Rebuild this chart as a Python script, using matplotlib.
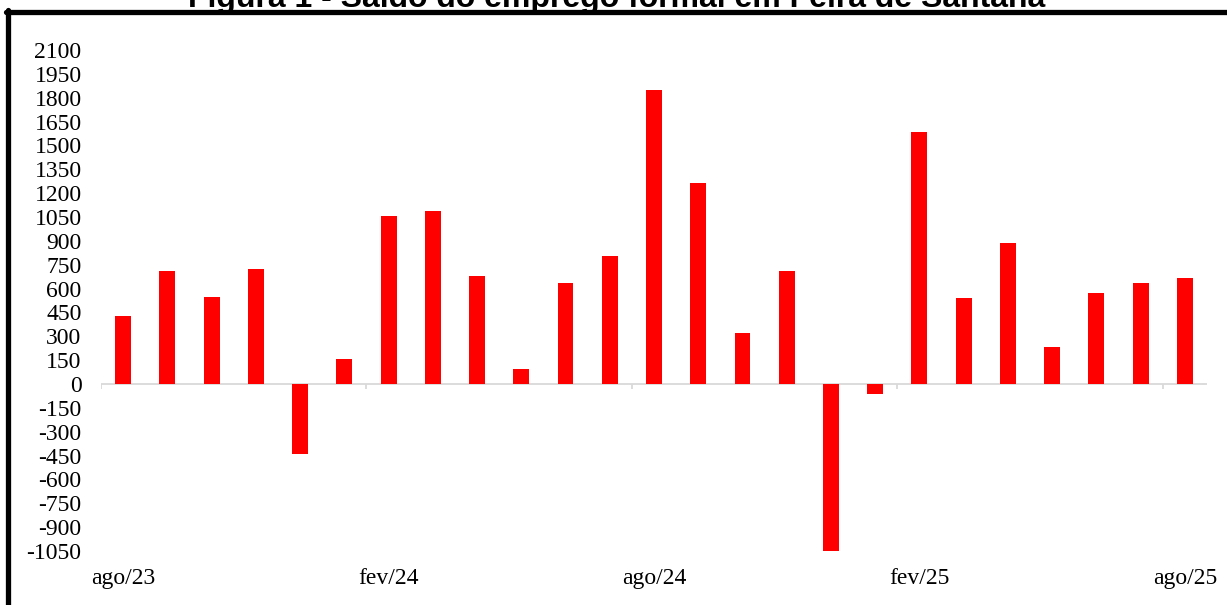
import matplotlib
matplotlib.use("Agg")
import matplotlib.pyplot as plt
from matplotlib.lines import Line2D
import numpy as np

# Saldo mensal de empregos formais (admissões - desligamentos), ago/23 a ago/25
months = ["ago/23", "set/23", "out/23", "nov/23", "dez/23", "jan/24",
          "fev/24", "mar/24", "abr/24", "mai/24", "jun/24", "jul/24",
          "ago/24", "set/24", "out/24", "nov/24", "dez/24", "jan/25",
          "fev/25", "mar/25", "abr/25", "mai/25", "jun/25", "jul/25",
          "ago/25"]
saldo = [428, 711, 549, 723, -440, 155,
         1057, 1088, 677, 92, 633, 805,
         1847, 1262, 319, 709, -1050, -65,
         1583, 539, 885, 231, 574, 633,
         665]
label_months = ["ago/23", "fev/24", "ago/24", "fev/25", "ago/25"]
y_ticks = list(range(-1050, 2101, 150))
title = "Figura 1 - Saldo do emprego formal em Feira de Santana"

W, H = 1227, 605
fig = plt.figure(figsize=(W / 100, H / 100), dpi=100)
fig.patch.set_facecolor("white")

ax = fig.add_axes([101 / W, 1 - 551 / H, (1207 - 101) / W, (551 - 50) / H])
x = np.arange(len(months))
ax.bar(x, saldo, width=0.36, color="#ff0000", zorder=3)

ax.set_xlim(-0.5, len(months) - 0.5)
ax.set_ylim(-1050, 2100)

for s in ax.spines.values():
    s.set_visible(False)

# zero line with category tick marks every six months
ax.axhline(0, color="#d9d9d9", lw=1.3, zorder=2)
bounds = np.arange(-0.5, len(months), 6)
ax.vlines(bounds, -34, 0, color="#d9d9d9", lw=1.3, zorder=2)

serif = "Liberation Serif"
ax.set_yticks(y_ticks)
ax.set_yticklabels([str(v) for v in y_ticks], fontfamily=serif, fontsize=17)
lab_pos = [months.index(m) for m in label_months]
ax.set_xticks(lab_pos)
ax.set_xticklabels(label_months, fontfamily=serif, fontsize=17)
ax.tick_params(axis="y", length=0, pad=14)
ax.tick_params(axis="x", length=0, pad=12)

# outer frame (top and left edges visible) and the title above it
fig.add_artist(Line2D([5.5 / W, 1.0], [1 - 11.5 / H, 1 - 11.5 / H],
                      transform=fig.transFigure, color="black", lw=3.8,
                      solid_capstyle="round", solid_joinstyle="round"))
fig.add_artist(Line2D([7.5 / W, 7.5 / W], [1 - 9.5 / H, 0.0],
                      transform=fig.transFigure, color="black", lw=3.8,
                      solid_capstyle="round"))
fig.text(617 / W, 1 - 6.5 / H, title, ha="center", va="baseline",
         fontfamily="Liberation Sans", fontweight="bold", fontsize=23)

fig.savefig("out.png", dpi=100, facecolor="white")
